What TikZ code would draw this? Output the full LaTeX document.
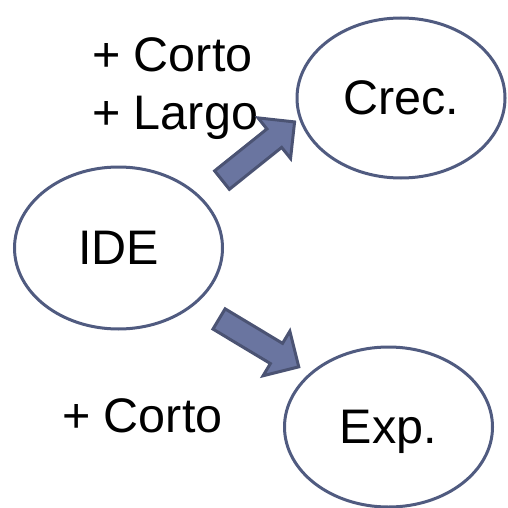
\documentclass[tikz,border=0pt]{standalone}
\usepackage{fontspec}
\setmainfont{Liberation Sans}
\usetikzlibrary{shapes.geometric}
\definecolor{ellline}{HTML}{505B80}
\definecolor{arrfill}{HTML}{6A75A0}
\definecolor{arrline}{HTML}{4B5373}
\tikzset{
  bubble/.style={ellipse, draw=ellline, line width=3pt, fill=white, inner sep=0pt,
    minimum width=208pt, minimum height=160pt,
    text height=0.905em, text depth=0.212em},
  lbl/.style={inner sep=0pt, align=left},
  blockarrow/.style={fill=arrfill, draw=arrline, line width=3pt, line join=miter}
}
\begin{document}
\begin{tikzpicture}[x=1pt, y=-1pt]
\fontsize{48.5}{58}\selectfont
\useasboundingbox (0,0) rectangle (507,508);
\node[bubble] (crec) at (401,98) {Crec.};
\node[bubble, minimum height=162pt] (ide) at (118.5,248) {IDE};
\node[bubble] (exp) at (388.5,427) {Exp.};
\node[lbl, anchor=north west] (top) at (92,37) {+ Corto\\+ Largo};
\node[lbl, anchor=base west] (bot) at (62,432) {+ Corto};
\begin{scope}[shift={(258.3,151)}, rotate=38.7]
  \draw[blockarrow] (-46.5,-11.8) -- (20.5,-11.8) -- (20.5,-26) -- (46.5,0)
    -- (20.5,26) -- (20.5,11.8) -- (-46.5,11.8) -- cycle;
\end{scope}
\begin{scope}[shift={(258.9,342.9)}, rotate=-31]
  \draw[blockarrow] (-46.5,-11.8) -- (20.5,-11.8) -- (20.5,-26) -- (46.5,0)
    -- (20.5,26) -- (20.5,11.8) -- (-46.5,11.8) -- cycle;
\end{scope}
\end{tikzpicture}
\end{document}
